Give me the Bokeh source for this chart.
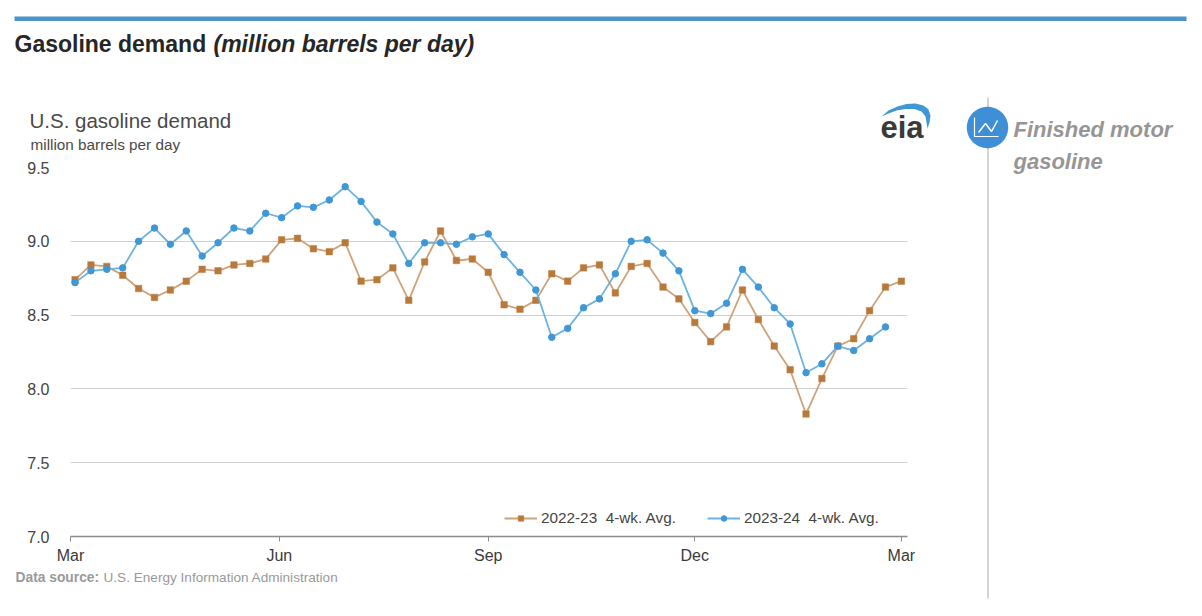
import numpy as np
from bokeh.plotting import figure
from bokeh.layouts import row, column
from bokeh.embed import file_html
from bokeh.resources import INLINE
from bokeh.core.properties import value
from bokeh.models import Legend, LegendItem, FixedTicker

# days since 1 March for each weekly observation
week_days = [2, 9, 16, 23, 30, 37, 44, 51, 58, 65, 72, 79, 86, 93, 100, 107, 114, 121, 128, 135, 142, 149, 156, 163,
             170, 177, 184, 191, 198, 205, 212, 219, 226, 233, 240, 247, 254, 261, 268, 275, 282, 289, 296, 303, 310,
             317, 324, 331, 338, 345, 352, 359, 366]
avg_2022_23 = [8.74, 8.84, 8.83, 8.77, 8.68, 8.62, 8.67, 8.73, 8.81, 8.80, 8.84, 8.85, 8.88, 9.01, 9.02, 8.95, 8.93,
               8.99, 8.73, 8.74, 8.82, 8.60, 8.86, 9.07, 8.87, 8.88, 8.79, 8.57, 8.54, 8.60, 8.78, 8.73, 8.82, 8.84,
               8.65, 8.83, 8.85, 8.69, 8.61, 8.45, 8.32, 8.42, 8.67, 8.47, 8.29, 8.13, 7.83, 8.07, 8.29, 8.34, 8.53,
               8.69, 8.73]
avg_2023_24 = [8.72, 8.80, 8.81, 8.82, 9.00, 9.09, 8.98, 9.07, 8.90, 8.99, 9.09, 9.07, 9.19, 9.16, 9.24, 9.23, 9.28,
               9.37, 9.27, 9.13, 9.05, 8.85, 8.99, 8.99, 8.98, 9.03, 9.05, 8.91, 8.79, 8.67, 8.35, 8.41, 8.55, 8.61,
               8.78, 9.00, 9.01, 8.92, 8.80, 8.53, 8.51, 8.58, 8.81, 8.69, 8.55, 8.44, 8.11, 8.17, 8.29, 8.26, 8.34,
               8.42]
month_ticks = [0, 92, 184, 275, 366]
month_labels = ["Mar", "Jun", "Sep", "Dec", "Mar"]
y_ticks = [7.0, 7.5, 8.0, 8.5, 9.0, 9.5]

BROWN = "#b87a3c"
BLUE = "#3f97d6"
FONT = "Liberation Sans"

# page layout (pixels)
SPLIT_X = 960
RULE_H = 28
TOP_H = 155
CHART_BOTTOM = 566
F_L, F_R, F_T, F_B = 70, 907, 167, 536


def strip(x0, x1, y0, y1):
    """A blank panel whose data coordinates are page pixels."""
    f = figure(width=x1 - x0, height=y1 - y0, x_range=(x0, x1), y_range=(y1, y0),
               x_axis_type=None, y_axis_type=None, output_backend="svg", toolbar_location=None,
               min_border=0, min_border_left=0, min_border_right=0, min_border_top=0, min_border_bottom=0,
               frame_align=False)
    f.outline_line_color = None
    f.xgrid.visible = False
    f.ygrid.visible = False
    f.background_fill_color = "white"
    f.border_fill_color = "white"
    return f


def put(f, text, x, y, size, color, style="normal"):
    f.text([x], [y], text=[text], text_font=value(FONT), text_font_size=value(size), text_color=color,
           text_font_style=style, text_baseline="middle", text_align="left")


# chart ---------------------------------------------------------------------
p = figure(width=SPLIT_X, height=CHART_BOTTOM - TOP_H, x_range=(0, 368.7), y_range=(7.0, 9.5),
           output_backend="svg", toolbar_location=None, frame_align=False,
           min_border_left=F_L, min_border_right=SPLIT_X - F_R, min_border_top=F_T - TOP_H,
           min_border_bottom=CHART_BOTTOM - F_B)
p.outline_line_color = None
p.background_fill_color = "white"
p.border_fill_color = "white"

p.xgrid.visible = False
p.ygrid.grid_line_color = "#cfcfcf"
p.ygrid.grid_line_width = 1.2
p.ygrid.ticker = FixedTicker(ticks=y_ticks)

p.yaxis.ticker = FixedTicker(ticks=y_ticks)
p.yaxis.axis_line_color = None
p.yaxis.major_tick_line_color = None
p.yaxis.minor_tick_line_color = None
p.yaxis.major_label_text_font = FONT
p.yaxis.major_label_text_font_size = "16px"
p.yaxis.major_label_text_color = "#444444"
p.yaxis.major_label_standoff = 15
p.yaxis.major_label_overrides = {t: f"{t:.1f}" for t in y_ticks}

p.xaxis.ticker = FixedTicker(ticks=month_ticks)
p.xaxis.major_label_overrides = dict(zip(month_ticks, month_labels))
p.xaxis.axis_line_color = "#8c8c8c"
p.xaxis.axis_line_width = 1.5
p.xaxis.major_tick_line_color = "#8c8c8c"
p.xaxis.major_tick_in = 0
p.xaxis.major_tick_out = 5
p.xaxis.minor_tick_line_color = None
p.xaxis.major_label_text_font = FONT
p.xaxis.major_label_text_font_size = "16px"
p.xaxis.major_label_text_color = "#3a3a3a"
p.xaxis.major_label_standoff = 5

l1 = p.line(week_days, avg_2022_23, line_color="#cfa27a", line_width=1.8)
m1 = p.scatter(week_days, avg_2022_23, marker="square", size=6.5, fill_color=BROWN, line_color=BROWN, line_width=0.5)
l2 = p.line(week_days[:len(avg_2023_24)], avg_2023_24, line_color="#6db3e0", line_width=1.8)
m2 = p.scatter(week_days[:len(avg_2023_24)], avg_2023_24, marker="circle", size=6.5, fill_color=BLUE, line_color=BLUE)

legend = Legend(items=[LegendItem(label="2022-23  4-wk. Avg.", renderers=[l1, m1]),
                       LegendItem(label="2023-24  4-wk. Avg.", renderers=[l2, m2])],
                orientation="horizontal", location=(434, 9),
                background_fill_alpha=0, border_line_color=None,
                label_text_font=FONT, label_text_font_size="15.3px", label_text_color="#444444",
                glyph_width=33, glyph_height=14, label_standoff=4, spacing=31, padding=4, margin=0)
p.add_layout(legend, "center")

# header rule -------------------------------------------------------------------
rule = strip(0, 1202, 0, RULE_H)
rule.quad(left=[14], right=[1186], top=[16], bottom=[20.5], fill_color="#4a94c8", line_color=None)

# top-left panel: heading, chart title, logo -----------------------------------
top = strip(0, SPLIT_X, RULE_H, TOP_H)
put(top, "Gasoline demand", 14, 43, "23px", "#262626", "bold")
put(top, "(million barrels per day)", 213, 43, "23px", "#262626", "bold italic")
put(top, "U.S. gasoline demand", 29, 120, "20.5px", "#4a4a4a")
put(top, "million barrels per day", 30, 144, "15.3px", "#4a4a4a")
put(top, "eia", 880, 127, "31px", "#3a3a3a", "bold")
arc_x = [881, 888, 897, 906, 915, 923, 928, 930, 929, 927, 926, 925, 921, 914, 905, 896, 888]
arc_y = [116, 110, 106, 103.5, 103, 105, 109, 115, 122, 128, 122, 116, 111, 108.5, 108.5, 110, 113]
top.patch(arc_x, arc_y, fill_color=BLUE, line_color=None)

# bottom-left panel: source -----------------------------------------------------
bottom = strip(0, SPLIT_X, CHART_BOTTOM, 616)
put(bottom, "Data source:", 15, 577, "13.8px", "#9a9a9a", "bold")
put(bottom, "U.S. Energy Information Administration", 103, 577, "13.6px", "#9a9a9a")

# right panel --------------------------------------------------------------------
side = strip(SPLIT_X, 1202, RULE_H, 616)
side.quad(left=[986.5], right=[988.5], top=[97], bottom=[598], fill_color="#d4d4d4", line_color=None)
a = np.linspace(0, 2 * np.pi, 72)
side.patch(987 + 20.7 * np.cos(a), 127 + 20.7 * np.sin(a), fill_color="#3f8fd6", line_color=None)
side.line([974, 974, 998], [117, 136, 136], line_color="white", line_width=1.2)
side.line([978, 985, 991, 997], [132, 123, 131, 120], line_color="white", line_width=1.5)
put(side, "Finished motor", 1013, 129, "22px", "#969696", "bold italic")
put(side, "gasoline", 1013, 161, "22px", "#969696", "bold italic")

page = column(rule, row(column(top, p, bottom), side))
open("out.html", "w").write(file_html(page, INLINE))
